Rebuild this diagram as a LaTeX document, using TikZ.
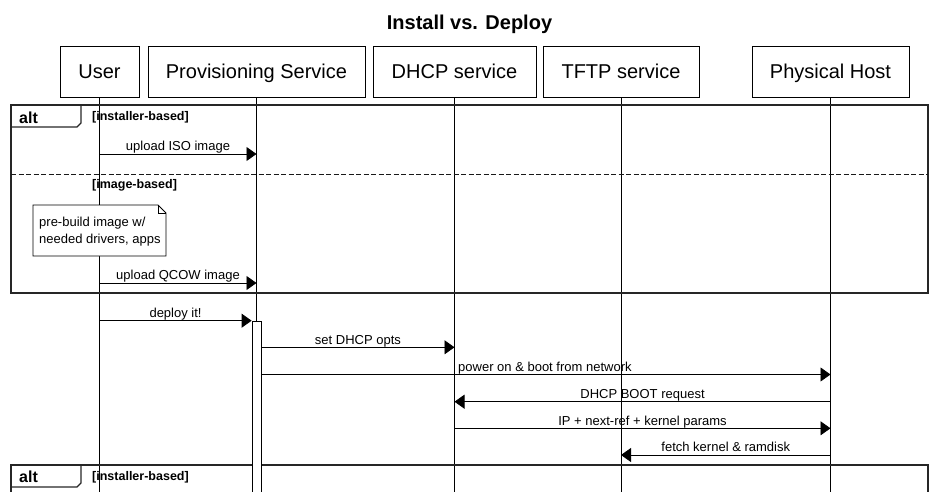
\documentclass[tikz,border=0pt]{standalone}
\usepackage{fontspec}
\setmainfont{Liberation Sans}
\usetikzlibrary{arrows.meta}
\begin{document}
\begin{tikzpicture}[x=1pt,y=-1pt,
  part/.style={draw, line width=0.9pt, minimum height=51pt, inner sep=0pt,
    font=\fontsize{20}{24}\selectfont, text height=14.3pt, text depth=0pt},
  life/.style={line width=0.8pt},
  msg/.style={line width=0.8pt, -{Triangle[length=10pt,width=14pt]}},
  mlabel/.style={font=\fontsize{13}{15}\selectfont, anchor=base, yshift=3.3pt, inner sep=0pt},
  frame/.style={draw=black!85, line width=2pt},
  sepline/.style={draw=black!90, line width=1.6pt, dash pattern=on 5pt off 2.5pt},
  guard/.style={font=\bfseries\fontsize{12.5}{14}\selectfont, anchor=base west, inner sep=0pt},
  altlabel/.style={font=\bfseries\fontsize{16}{18}\selectfont, anchor=base west, inner sep=0pt},
  notebox/.style={draw, fill=white, line width=0.8pt},
  notetext/.style={font=\fontsize{13}{17}\selectfont, align=left, inner sep=0pt, anchor=west},
  actbox/.style={draw, fill=white, line width=0.8pt, inner sep=0pt, minimum width=9pt, minimum height=190pt, anchor=north}
]
\useasboundingbox (0,0) rectangle (937,492);
\clip (0,0) rectangle (937,492);

% title
\node[font=\bfseries\fontsize{20}{24}\selectfont, anchor=base, inner sep=0pt] (title) at (469.5,30) {Install vs. Deploy};

% participants
\node[part, minimum width=79pt]  (user) at (99.5,71.5) {User};
\node[part, minimum width=217pt] (prov) at (256.5,71.5) {Provisioning Service};
\node[part, minimum width=163pt] (dhcp) at (454.5,71.5) {DHCP service};
\node[part, minimum width=156pt] (tftp) at (621,71.5) {TFTP service};
\node[part, minimum width=157pt] (phys) at (830.5,71.5) {Physical Host};

% lifelines
\foreach \p in {user,prov,dhcp,tftp,phys}{
  \coordinate (\p end) at (\p |- 0,500);
  \draw[life] (\p.south) -- (\p end);
}

% first alt frame
\draw[frame] (11,105.5) rectangle (927.5,292.5);
\draw[frame, line width=1.3pt] (11,127) -- (77,127) -- (81,123) -- (81,105.5);
\node[altlabel] (alt1) at (19,123.3) {alt};
\node[guard] (g1) at (92,120.5) {[installer-based]};
\draw[sepline] (11,174.3) -- (927.5,174.3);
\node[guard] (g2) at (92,188.5) {[image-based]};

% note
\draw[notebox] (33,205) -- (158,205) -- (166,213) -- (166,256) -- (33,256) -- cycle;
\draw[line width=0.8pt] (158,205) -- (158,213) -- (166,213);
\node[notetext] (note) at (39,231.4) {pre-build image w/\\needed drivers, apps};

% messages in first frame
\draw[msg] (user |- 0,154) -- node[mlabel] (m1) {upload ISO image} (prov |- 0,154);
\draw[msg] (user |- 0,283) -- node[mlabel] (m2) {upload QCOW image} (prov |- 0,283);

% second alt frame
\draw[frame] (11,465) rectangle (927.5,520);
\draw[frame, line width=1.3pt] (11,487) -- (77,487) -- (81,483) -- (81,465);
\node[altlabel] (alt2) at (19,482.8) {alt};
\node[guard] (g3) at (92,480) {[installer-based]};

% activation
\node[actbox] (act) at (256.5,320.7) {};

% messages
\draw[msg] (user |- 0,320.7) -- node[mlabel] (m3) {deploy it!} (act.west |- 0,320.7);
\draw[msg] (act.east |- 0,347.3) -- node[mlabel] (m4) {set DHCP opts} (dhcp |- 0,347.3);
\coordinate (pwr) at (458,374.5);
\draw[msg] (act.east |- 0,374.5) -- (phys |- 0,374.5);
\node[mlabel, anchor=base west] (m5) at (pwr) {power on \& boot from network};
\draw[msg] (phys |- 0,401.7) -- node[mlabel] (m6) {DHCP BOOT request} (dhcp |- 0,401.7);
\draw[msg] (dhcp |- 0,428.3) -- node[mlabel] (m7) {IP + next-ref + kernel params} (phys |- 0,428.3);
\draw[msg] (phys |- 0,455) -- node[mlabel] (m8) {fetch kernel \& ramdisk} (tftp |- 0,455);
\end{tikzpicture}
\end{document}
